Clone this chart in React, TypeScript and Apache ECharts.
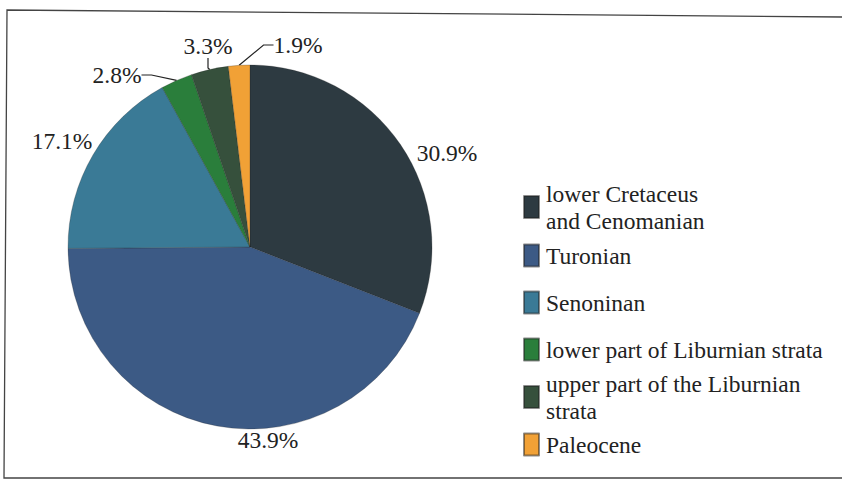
import React, { useEffect, useRef } from "react";
import * as echarts from "echarts";

const categories = [
  "lower Cretaceus and Cenomanian",
  "Turonian",
  "Senoninan",
  "lower part of Liburnian strata",
  "upper part of the Liburnian strata",
  "Paleocene",
];
const values = [30.9, 43.9, 17.1, 2.8, 3.3, 1.9];
const legendLabels = [
  "lower Cretaceus\nand Cenomanian",
  "Turonian",
  "Senoninan",
  "lower part of Liburnian strata",
  "upper part of the Liburnian\nstrata",
  "Paleocene",
];
const colors = ["#2d3a41", "#3c5a85", "#3a7a96", "#2a7e3b", "#36503c", "#f1a136"];

// label anchor positions (text centers) and whether a leader line is drawn
const labelPos: [number, number][] = [
  [447, 153],
  [268, 440],
  [62, 141],
  [117, 75],
  [208, 46],
  [298, 45],
];
const showLine = [false, false, false, true, true, true];
const legendTops = [175, 237, 284, 331, 365, 426];

const FONT = "Liberation Serif";

export default function App() {
  const ref = useRef<HTMLDivElement>(null);
  useEffect(() => {
    if (!ref.current) return;
    const chart = echarts.init(ref.current, null, { renderer: "svg" });
    const legends = categories.map((c, i) => ({
      data: [c],
      orient: "vertical",
      left: 518,
      top: legendTops[i],
      icon: "rect",
      itemWidth: 15,
      itemHeight: 22,
      itemGap: 0,
      selectedMode: false,
      formatter: () => legendLabels[i],
      textStyle: {
        fontFamily: FONT,
        fontSize: 23.5,
        lineHeight: 27,
        color: "#222",
        padding: [0, 0, 0, 2],
      },
    }));
    chart.setOption({
      animation: false,
      backgroundColor: "#fff",
      color: colors,
      legend: legends,
      graphic: [
        {
          type: "polyline",
          shape: { points: [[842, 17], [7, 10], [4, 478], [842, 478]] },
          style: { stroke: "#444", lineWidth: 1.3, fill: "none" },
          silent: true,
        },
      ],
      series: [
        {
          type: "pie",
          center: [250, 247],
          radius: 182,
          startAngle: 90,
          clockwise: true,
          data: categories.map((c, i) => ({
            name: c,
            value: values[i],
            labelLine: { show: showLine[i] },
          })),
          itemStyle: { borderWidth: 0.5, borderColor: "rgba(30,30,30,0.5)" },
          label: {
            show: true,
            position: "outside",
            formatter: (p: any) => p.value + "%",
            fontFamily: FONT,
            fontSize: 23.5,
            color: "#222",
          },
          labelLine: {
            lineStyle: { color: "#222", width: 1.2 },
            length: 8,
            length2: 10,
          },
          labelLayout: (p: any) => ({
            x: labelPos[p.dataIndex][0],
            y: labelPos[p.dataIndex][1],
            align: "center",
            verticalAlign: "middle",
          }),
        },
      ],
    });
    return () => chart.dispose();
  }, []);
  return (
    <div
      ref={ref}
      style={{ position: "fixed", left: 0, top: 0, width: 842, height: 479 }}
    />
  );
}
